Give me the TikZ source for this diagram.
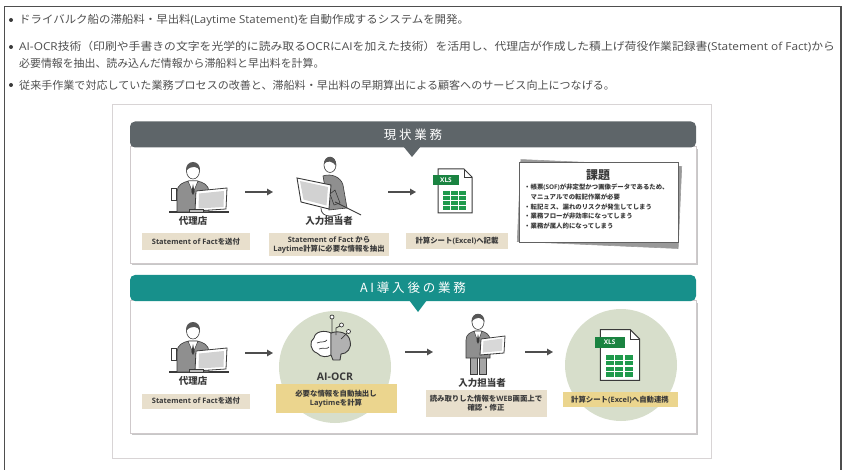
\documentclass[tikz,border=0pt]{standalone}
\usepackage{graphicx}
\usepackage{fontspec}
\setmainfont{Noto Sans CJK JP}
\newfontfamily\latfont{Open Sans}
\newcommand\lt[1]{{\latfont #1}}
\usetikzlibrary{arrows.meta,positioning}

\definecolor{ink}{HTML}{3A3A3A}
\definecolor{hdrgray}{HTML}{5E6569}
\definecolor{hdrteal}{HTML}{17908B}
\definecolor{tagtan}{HTML}{E8DFCC}
\definecolor{taggold}{HTML}{EBD58E}
\definecolor{sage}{HTML}{D7DECB}
\definecolor{suit}{HTML}{8F8F8F}
\definecolor{xlsgreen}{HTML}{1F9A4C}
\definecolor{rim}{HTML}{CFC9CB}

\tikzset{
  % seated agent with a laptop
  pics/agent/.style={code={
    \draw[ink,line width=1.2pt] (-24,22) -- (36,22);
    \filldraw[fill=suit,draw=ink,line width=.6pt] (-16,22) -- (-16,2) .. controls (-16,-5) and (-10,-8) .. (-4,-9) -- (4,-9) .. controls (10,-8) and (16,-5) .. (16,2) -- (16,22) -- cycle;
    \filldraw[fill=white,draw=ink,line width=.5pt] (-5,-9) -- (0,3) -- (5,-9) -- cycle;
    \fill[ink] (0,-6) -- (-1.6,2) -- (0,5) -- (1.6,2) -- cycle;
    \filldraw[fill=white,draw=ink,line width=.6pt] (0,-19) ellipse (6.5pt and 8pt);
    \fill[ink!85] (-7,-19) .. controls (-8,-31) and (8,-31) .. (7,-19) .. controls (5,-24) and (-2,-25) .. (-7,-19) -- cycle;
    \filldraw[fill=white,draw=ink,line width=.6pt] (-22,-2) rectangle (-17,10);
    \filldraw[fill=white,draw=ink,line width=.8pt] (3,1) -- (34,-2) -- (33,19) -- (2,21) -- cycle;
    \fill[suit!40] (6,3.5) -- (31,1) -- (30.5,17) -- (5.5,18.5) -- cycle;
    \filldraw[fill=suit!60,draw=ink,line width=.5pt] (-4,19) rectangle (10,22);
  }},
  % operator at a desktop monitor
  pics/operator/.style={code={
    \filldraw[fill=suit,draw=ink,line width=.6pt] (-2,-12) .. controls (6,-15) and (16,-11) .. (18,-3) -- (22,20) -- (4,22) -- cycle;
    \filldraw[fill=white,draw=ink,line width=.6pt] (5,-23) ellipse (6pt and 7.5pt);
    \fill[ink!85] (-1,-24) .. controls (-1,-34) and (12,-34) .. (11,-22) .. controls (8,-27) and (2,-28) .. (-1,-24) -- cycle;
    \draw[ink,line width=.7pt] (-4,20) .. controls (-4,28) and (4,30) .. (16,26);
    \filldraw[fill=white,draw=ink,line width=.9pt] (-28,-10) -- (6,-3) -- (4,21) -- (-24,14) -- cycle;
    \fill[suit!40] (-25,-7) -- (3,-1) -- (1.5,17.5) -- (-21.5,11.5) -- cycle;
    \filldraw[fill=suit,draw=ink,line width=.6pt] (10,2) -- (15,15) -- (9,17) -- (5,6) -- cycle;
    \draw[ink,line width=.9pt] (10,14) -- (36,27);
  }},
  % standing operator holding a tablet
  pics/standee/.style={code={
    \filldraw[fill=suit!80,draw=ink,line width=.6pt] (-8,10) rectangle (-1,29);
    \filldraw[fill=suit!80,draw=ink,line width=.6pt] (1,10) rectangle (8,29);
    \filldraw[fill=suit,draw=ink,line width=.6pt] (-12,13) -- (-12,-5) .. controls (-12,-11) and (-7,-13) .. (-3,-14) -- (3,-14) .. controls (7,-13) and (12,-11) .. (12,-5) -- (12,13) -- cycle;
    \filldraw[fill=white,draw=ink,line width=.5pt] (-4,-14) -- (0,-3) -- (4,-14) -- cycle;
    \fill[ink] (0,-11) -- (-1.4,-4) -- (0,-1) -- (1.4,-4) -- cycle;
    \filldraw[fill=white,draw=ink,line width=.6pt] (0,-23) ellipse (6pt and 7.5pt);
    \fill[ink!85] (-6.5,-23) .. controls (-7,-34) and (7,-34) .. (6.5,-23) .. controls (4,-28) and (-2,-29) .. (-6.5,-23) -- cycle;
    \filldraw[fill=white,draw=ink,line width=.8pt] (3,-6) -- (27,-9) -- (26,8) -- (2,10) -- cycle;
    \fill[suit!35] (5.5,-4) -- (24.5,-6.5) -- (23.7,5.8) -- (4.7,7.6) -- cycle;
  }},
  % brain with circuit traces
  pics/brain/.style={code={
    \filldraw[fill=white,draw=ink,line width=.9pt] (0,-12) .. controls (-6,-15) and (-16,-14) .. (-17,-7) .. controls (-22,-4) and (-21,6) .. (-14,8) .. controls (-10,13) and (-3,12) .. (0,10) -- cycle;
    \filldraw[fill=suit!70,draw=ink,line width=.9pt] (0,-12) .. controls (8,-15) and (18,-12) .. (19,-4) .. controls (21,3) and (16,9) .. (10,9) -- (9,15) -- (2,15) -- (0,10) -- cycle;
    \draw[ink,line width=.7pt] (-14,-2) .. controls (-10,-4) and (-6,-2) .. (-4,-5);
    \draw[ink,line width=.7pt] (-12,4) .. controls (-8,2) and (-4,5) .. (-2,2);
    \draw[ink,line width=.7pt] (1,-12) -- (1,-26) (5,-10) -- (5,-17) -- (9,-19) (10,-6) -- (16,-12);
    \filldraw[fill=white,draw=ink,line width=.7pt] (1,-28) circle (2pt) (10.5,-20) circle (2pt) (17.5,-13.5) circle (2pt);
  }},
  % spreadsheet file
  pics/sheet/.style={code={
    \filldraw[fill=white,draw=ink,line width=1pt] (-17,-22) -- (9,-22) -- (17,-14) -- (17,22) -- (-17,22) -- cycle;
    \draw[ink,line width=.8pt] (9,-22) -- (9,-14) -- (17,-14);
    \fill[xlsgreen!85!black] (-22,-16) rectangle (4,-6);
    \node[text=white,font=\fontsize{6.5}{7}\selectfont\latfont\bfseries] at (-9,-11) {XLS};
    \foreach \r in {0,...,3}
      \foreach \c in {0,...,2}
        \fill[xlsgreen] (-12+\c*8,0+\r*5) rectangle ++(7,4);
  }}
}

\begin{document}
\begin{tikzpicture}[x=1pt,y=-1pt,
  dot/.style={circle,fill=ink,inner sep=0pt,minimum size=4pt},
  bullet/.style={anchor=west,inner sep=0pt,text=ink!90,font=\fontsize{10.9}{12}\selectfont},
  hdr/.style={rounded corners=5pt,minimum width=566pt,minimum height=26pt,inner sep=0pt,text=white,font=\fontsize{12.5}{14}\selectfont},
  panel/.style={fill=white,draw=rim,line width=.8pt,minimum width=566pt,inner sep=0pt},
  role/.style={text=ink,font=\fontsize{9.5}{11}\selectfont\bfseries},
  tag/.style={fill=tagtan,text=ink,align=center,inner sep=0pt,font=\fontsize{7.4}{8.8}\selectfont\bfseries},
  goldtag/.style={tag,fill=taggold},
  flow/.style={draw=ink!90,line width=1.3pt,-{Triangle[length=6pt,width=6.5pt]}}]
  \useasboundingbox (0,0) rectangle (843,470);

  % frame and summary
  \draw[ink!90,line width=1.4pt] (4.5,470) -- (4.5,6.5) -- (841,6.5) -- (841,470);
  \node (b1) [dot] at (11,20) {};
  \node (t1) [bullet] at (19,20) {\scalebox{1.05}[1]{ドライバルク船の滞船料・早出料\lt{(Laytime Statement)}を自動作成するシステムを開発。}};
  \node (b2) [dot] at (11,47) {};
  \node (t2) [bullet] at (19,47) {\scalebox{1.085}[1]{\lt{AI-OCR}技術（印刷や手書きの文字を光学的に読み取る\lt{OCR}に\lt{AI}を加えた技術）を活用し、代理店が作成した積上げ荷役作業記録書\lt{(Statement of Fact)}から}};
  \node (t2b) [bullet] at (19,63) {必要情報を抽出、読み込んだ情報から滞船料と早出料を計算。};
  \node (b3) [dot] at (11,85) {};
  \node (t3) [bullet] at (19,85) {\scalebox{1.014}[1]{従来手作業で対応していた業務プロセスの改善と、滞船料・早出料の早期算出による顧客へのサービス向上につなげる。}};

  % outer card
  \draw[rim!80,line width=.8pt] (112,104) rectangle (711,458);

  % current workflow
  \fill[black!22] (132,149) rectangle (698,265);
  \node (nowbox) [panel,minimum height=117pt] at (413,204.5) {};
  \node (nowhdr) [hdr,fill=hdrgray] at (413,134.5) {現 状 業 務};
  \fill[hdrgray] (403,146) -- (421,146) -- (412,157) -- cycle;

  \pic at (193,190) {agent};
  \node (agentA) [role] at (193,221) {代理店};
  \node (sendA) [tag,minimum width=108pt,minimum height=17pt] at (196,241.5) {\lt{Statement of Fact}を送付};
  \coordinate (a1s) at (245,192);
  \coordinate (a1e) at (273,192);
  \draw[flow] (a1s) -- (a1e);

  \pic at (325,188) {operator};
  \node (opA) [role] at (329,221) {入力担当者};
  \node (pickA) [tag,minimum width=120pt,minimum height=23pt] at (329,245) {\lt{Statement of Fact} から\\\lt{Laytime}計算に必要な情報を抽出};
  \coordinate (a2s) at (388,192);
  \coordinate (a2e) at (416,192);
  \draw[flow] (a2s) -- (a2e);

  \pic at (455,191) {sheet};
  \node (keyA) [tag,minimum width=102pt,minimum height=16pt] at (457,241) {計算シート\lt{(Excel)}へ記載};

  % issues card on a second sheet
  \filldraw[fill=black!40,draw=ink!50,line width=.6pt,rotate around={-2.5:(599,204)}] (519,163) rectangle (680,245);
  \node (issue) [draw=ink!80,line width=1pt,fill=white,minimum width=159pt,minimum height=80pt] at (598.5,203) {};
  \node (issuet) [text=ink,font=\fontsize{12}{13}\selectfont\bfseries] at (598,175) {課題};
  \node (issuel) [anchor=north west,inner sep=0pt,align=left,text=ink,font=\fontsize{6.4}{9.6}\selectfont\bfseries] at (524,184) {・帳票\lt{(SOF)}が非定型かつ画像データであるため、\\\hspace{6.4pt}マニュアルでの転記作業が必要\\・転記ミス、漏れのリスクが発生してしまう\\・業務フローが非効率になってしまう\\・業務が属人的になってしまう};

  % workflow with AI
  \fill[black!22] (132,303) rectangle (698,435);
  \node (aibox) [panel,minimum height=133pt] at (413,366.5) {};
  \node (aihdr) [hdr,fill=hdrteal] at (413,288) {A I 導 入 後 の 業 務};
  \fill[hdrteal] (409,300) -- (427,300) -- (418,312) -- cycle;

  \pic at (193,350) {agent};
  \node (agentB) [role] at (193,381) {代理店};
  \node (sendB) [tag,minimum width=108pt,minimum height=15pt] at (196,401) {\lt{Statement of Fact}を送付};
  \coordinate (b1s) at (245,353);
  \coordinate (b1e) at (273,353);
  \draw[flow] (b1s) -- (b1e);

  \node (ocr) [circle,fill=sage,minimum size=112pt,inner sep=0pt] at (335,367) {};
  \pic at (331,345) {brain};
  \node (ocrt) [text=ink,font=\fontsize{10.5}{12}\selectfont\latfont\bfseries] at (335,377) {AI-OCR};
  \node (ocrtag) [goldtag,minimum width=121pt,minimum height=29pt] at (336,398.5) {必要な情報を自動抽出し\\\lt{Laytime}を計算};
  \coordinate (b2s) at (405,352);
  \coordinate (b2e) at (433,352);
  \draw[flow] (b2s) -- (b2e);

  \pic at (478,345) {standee};
  \node (opB) [role] at (482,383) {入力担当者};
  \node (checkB) [tag,minimum width=121pt,minimum height=27pt] at (486,403.5) {読み取りした情報を\lt{WEB}画面上で\\確認・修正};
  \coordinate (b3s) at (525,352);
  \coordinate (b3e) at (553,352);
  \draw[flow] (b3s) -- (b3e);

  \node (xls) [circle,fill=sage,minimum size=112pt,inner sep=0pt] at (621,365) {};
  \pic[scale=1.15] at (620,355) {sheet};
  \node (linkB) [goldtag,minimum width=115pt,minimum height=15pt] at (620,399.5) {計算シート\lt{(Excel)}へ自動連携};
\end{tikzpicture}
\end{document}
